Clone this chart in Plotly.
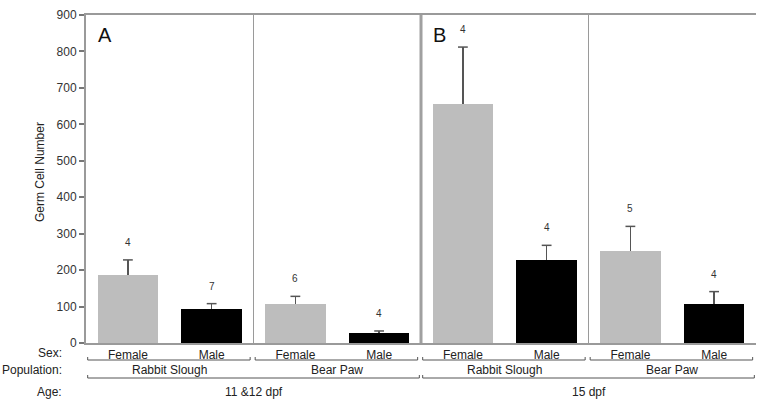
import plotly.graph_objects as go

# ---- data ----
sexes = ["Female", "Male", "Female", "Male", "Female", "Male", "Female", "Male"]
populations = ["Rabbit Slough", "Bear Paw", "Rabbit Slough", "Bear Paw"]
ages = ["11 &12 dpf", "15 dpf"]
means = [187, 92, 106, 28, 657, 229, 252, 107]
sems = [41, 16, 22, 5, 155, 39, 68, 34]
counts = [4, 7, 6, 4, 4, 4, 5, 4]
panel_letters = ["A", "B"]
y_ticks = [0, 100, 200, 300, 400, 500, 600, 700, 800, 900]

FONT = "Liberation Sans, Arial, Helvetica, sans-serif"
TXT = "#222222"
GRAY_BAR = "#bdbdbd"
LINE = "#9a9a9a"
ERR = "#555555"

xs = list(range(len(means)))
colors = [GRAY_BAR if s == "Female" else "#000000" for s in sexes]
tops = [m + s for m, s in zip(means, sems)]

fig = go.Figure()
# bars with upper error whiskers (no caps; caps drawn separately so none sits on the bar top)
fig.add_trace(go.Bar(
    x=xs, y=means, width=0.72,
    marker=dict(color=colors, line=dict(width=0)),
    error_y=dict(type="data", symmetric=False, array=sems,
                 arrayminus=[0] * len(sems), color=ERR,
                 thickness=1.5, width=0),
    showlegend=False, hoverinfo="skip",
))
# caps at the top of each whisker
fig.add_trace(go.Scatter(
    x=xs, y=tops, mode="markers",
    marker=dict(symbol="line-ew", size=7, line=dict(color=ERR, width=1.5)),
    showlegend=False, hoverinfo="skip",
))

ann = []
# n labels above error bars
for x, t, n in zip(xs, tops, counts):
    ann.append(dict(x=x, y=t, xref="x", yref="y", text=str(n),
                    showarrow=False, yanchor="bottom", yshift=10,
                    font=dict(size=10, color="#333333")))

# panel letters
for i, letter in enumerate(panel_letters):
    ann.append(dict(x=-0.5 + 4 * i, y=1, xref="x", yref="paper", text=letter,
                    showarrow=False, xanchor="left", yanchor="middle",
                    xshift=10, yshift=-20,
                    font=dict(size=20, color="#111111")))

# row headings
for label, shift in [("Sex:", -10), ("Population:", -27), ("Age:", -48.5)]:
    ann.append(dict(x=0, y=0, xref="paper", yref="paper", text=label,
                    showarrow=False, xanchor="right", yanchor="middle",
                    xshift=-22, yshift=shift, font=dict(size=12, color=TXT)))

shapes = []
def bracket(xa, xb, ypx):
    shapes.append(dict(type="line", xref="x", yref="paper", ysizemode="pixel",
                       yanchor=0, x0=xa, x1=xb, y0=ypx, y1=ypx,
                       line=dict(color="#555555", width=1)))
    for xe in (xa, xb):
        shapes.append(dict(type="line", xref="x", yref="paper", ysizemode="pixel",
                           yanchor=0, x0=xe, x1=xe, y0=ypx, y1=ypx + 3,
                           line=dict(color="#555555", width=1)))

# population brackets / labels
for j, pop in enumerate(populations):
    start = -0.5 + 2 * j
    bracket(start + 0.02, start + 2 - 0.04, -17)
    ann.append(dict(x=start + 1, y=0, xref="x", yref="paper", text=pop,
                    showarrow=False, yanchor="middle", yshift=-27,
                    font=dict(size=12, color=TXT)))

# age brackets / labels
for k, age in enumerate(ages):
    start = -0.5 + 4 * k
    bracket(start + 0.02, start + 4 - 0.02, -35)
    ann.append(dict(x=start + 2, y=0, xref="x", yref="paper", text=age,
                    showarrow=False, yanchor="middle", yshift=-48.5,
                    font=dict(size=12, color=TXT)))

# dividers
shapes.append(dict(type="line", xref="x", yref="paper", x0=3.5, x1=3.5,
                   y0=0, y1=1, line=dict(color="#a0a0a0", width=3)))
for xd in (1.5, 5.5):
    shapes.append(dict(type="line", xref="x", yref="paper", x0=xd, x1=xd,
                       y0=0, y1=1, line=dict(color=LINE, width=1)))

# y title
ann.append(dict(x=0, y=0.521, xref="paper", yref="paper", text="Germ Cell Number",
                showarrow=False, textangle=-90, xanchor="center", yanchor="middle",
                xshift=-46, font=dict(size=12, color=TXT)))

fig.update_layout(
    width=764, height=408,
    margin=dict(l=86, r=8, t=11, b=65),
    paper_bgcolor="white", plot_bgcolor="white",
    font=dict(family=FONT, size=12, color=TXT),
    annotations=ann, shapes=shapes,
    xaxis=dict(range=[-0.5, 7.5], tickvals=xs, ticktext=sexes, ticks="",
               showgrid=False, zeroline=False, showline=True, linecolor=LINE,
               linewidth=2, mirror=True, tickfont=dict(size=12, color=TXT),
               fixedrange=True),
    yaxis=dict(range=[0, 900], tickvals=y_ticks, ticks="outside", ticklen=5,
               tickwidth=1.5, tickcolor="#777777", showgrid=False,
               zeroline=False, showline=True, linecolor=LINE, linewidth=2,
               tickfont=dict(size=12, color="#333333"), fixedrange=True),
    bargap=0,
)

# remove the browser's default 8px body margin so the figure fills the window
fig.write_html("out.html",
               config={"displayModeBar": False},
               post_script="document.body.style.margin='0';document.body.style.overflow='hidden';")
